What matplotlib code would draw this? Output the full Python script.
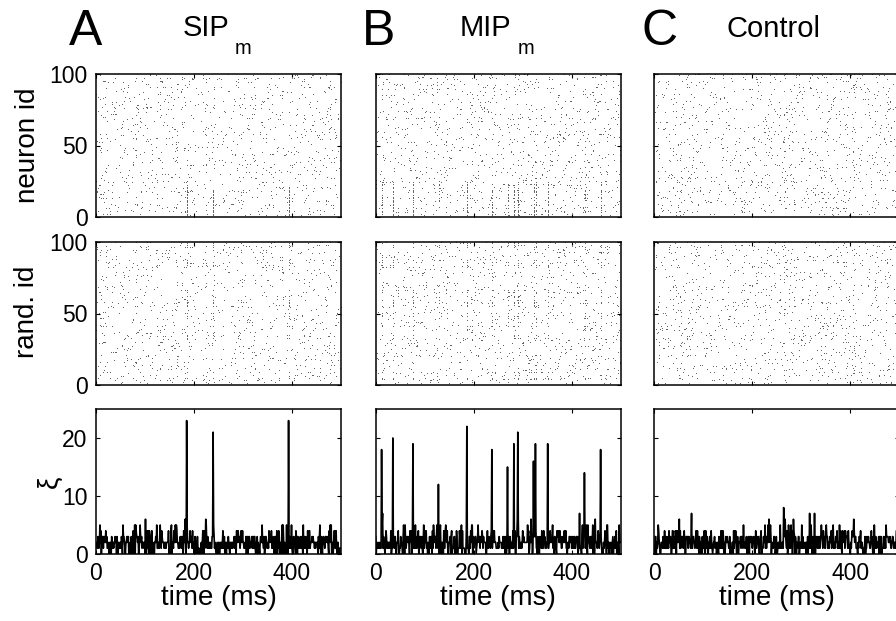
import numpy as np
import matplotlib
matplotlib.use("Agg")
import matplotlib.pyplot as plt

plt.rcParams["font.family"] = ["Liberation Sans", "DejaVu Sans"]

W, H = 896, 621
N_NEURONS = 100
T_MS = 500
RATE_HZ = 20          # background rate, from the ~2 spikes/ms baseline of xi

# synchronous events: time (ms) and peak height
sip_times   = [185, 239, 393]
sip_heights = [23, 21, 23]
mip_times   = [12, 35, 76, 128, 186, 237, 269, 282, 290, 322, 326, 351, 426, 459]
mip_heights = [18, 20, 19, 12, 22, 18, 15, 19, 21, 16, 19, 19, 14, 18]

panel_letters = ["A", "B", "C"]
row_labels    = ["neuron id", "rand. id", "\u03be"]
time_ticks    = [0, 200, 400]
id_ticks      = [0, 50, 100]
xi_ticks      = [0, 10, 20]

# background Poisson spikes can't be read dot by dot; a fixed seed stands in
rng = np.random.default_rng(11)


def background():
    n = rng.poisson(RATE_HZ * T_MS / 1000, N_NEURONS)
    ids = np.repeat(np.arange(N_NEURONS), n)
    ts = rng.integers(0, T_MS, ids.size)
    return ts, ids


def with_events(times, heights, mode):
    ts, ids = background()
    ts, ids = list(ts), list(ids)
    for t, h in zip(times, heights):
        k = max(h - ts.count(t), 0)
        if mode == "sip":
            who = np.arange(k)
        else:
            who = rng.choice(24, k, replace=False)
        ts += [t] * k
        ids += list(who)
    return np.array(ts), np.array(ids)


sets = [with_events(sip_times, sip_heights, "sip"),
        with_events(mip_times, mip_heights, "mip"),
        background()]
perm = rng.permutation(N_NEURONS)

fig = plt.figure(figsize=(W / 100, H / 100), dpi=100)

lefts = [96, 375.7, 654.3]
rows = [(74, 217), (242, 385), (409, 554)]
aw = 245


def px_ax(x0, y0, y1):
    return [x0 / W, 1 - y1 / H, aw / W, (y1 - y0) / H]


for c, (ts, ids) in enumerate(sets):
    xi = np.bincount(ts, minlength=T_MS)[:T_MS]
    for r, (y0, y1) in enumerate(rows):
        ax = fig.add_axes(px_ax(lefts[c], y0, y1))
        if r < 2:
            yy = ids if r == 0 else perm[ids]
            ax.plot(ts + 0.5, yy + 0.5, ",", color="0.4")
            ax.set_ylim(0, 100)
            ax.set_yticks(id_ticks)
        else:
            ax.plot(np.arange(T_MS), xi, color="k", lw=1.2)
            ax.set_ylim(0, 25)
            ax.set_yticks(xi_ticks)
        ax.set_xlim(0, T_MS)
        ax.set_xticks(time_ticks)
        ax.tick_params(direction="in", top=True, right=True, length=3,
                       width=0.8, labelsize=16.5)
        ax.tick_params(axis="y", pad=6)
        ax.tick_params(axis="x", pad=6)
        for s in ax.spines.values():
            s.set_linewidth(1.1)
        if c > 0:
            ax.set_yticklabels([])
        if r < 2:
            ax.set_xticklabels([])
        else:
            ax.set_xlabel("time (ms)", fontsize=20, labelpad=0)


def ftext(x, y, s, **kw):
    fig.text(x / W, 1 - y / H, s, **kw)


for x, L in zip([69, 362, 642], panel_letters):
    ftext(x, 45, L, fontsize=36, va="baseline")

ftext(183, 36, "SIP", fontsize=21, va="baseline")
ftext(235, 54, "m", fontsize=14.5, va="baseline")
ftext(460, 36, "MIP", fontsize=21, va="baseline")
ftext(518, 54, "m", fontsize=14.5, va="baseline")
ftext(726, 37, "Control", fontsize=21, va="baseline")

ftext(28, 145, row_labels[0], fontsize=20, rotation=90, ha="center", va="center")
ftext(27, 312, row_labels[1], fontsize=20, rotation=90, ha="center", va="center")
ftext(50, 482, row_labels[2], fontsize=20, rotation=90, ha="center", va="center")

fig.savefig("out.png", dpi=100)
